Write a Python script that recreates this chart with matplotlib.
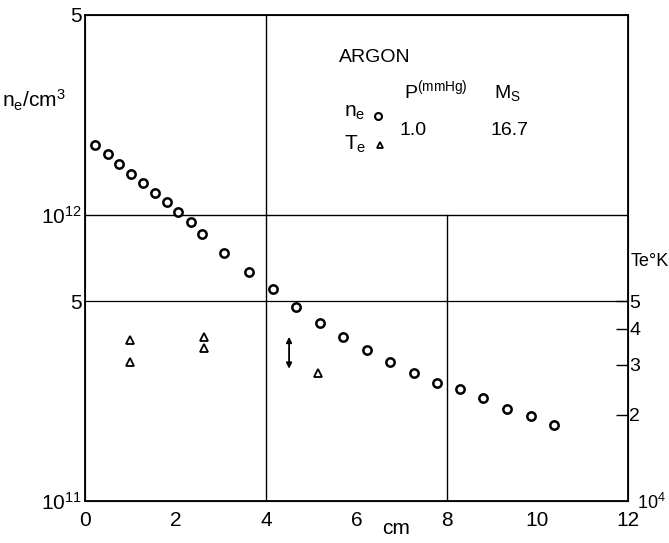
import numpy as np
import matplotlib
matplotlib.use("Agg")
import matplotlib.pyplot as plt
from matplotlib.lines import Line2D

plt.rcParams['font.family'] = ['Liberation Sans', 'DejaVu Sans']
plt.rcParams['mathtext.fontset'] = 'custom'
plt.rcParams['mathtext.rm'] = 'Liberation Sans'
plt.rcParams['mathtext.it'] = 'Liberation Sans'

# electron density (circles), cm and n_e/cm^3
x_ne = [0.22, 0.50, 0.75, 1.01, 1.28, 1.55, 1.81, 2.05, 2.34, 2.59, 3.08, 3.62,
        4.15, 4.67, 5.19, 5.71, 6.23, 6.75, 7.26, 7.77, 8.29, 8.80, 9.32, 9.85, 10.37]
n_e = [1.75e12, 1.63e12, 1.51e12, 1.39e12, 1.29e12, 1.19e12, 1.11e12, 1.02e12,
       9.45e11, 8.60e11, 7.36e11, 6.32e11, 5.50e11, 4.77e11, 4.19e11, 3.75e11,
       3.37e11, 3.06e11, 2.80e11, 2.58e11, 2.46e11, 2.29e11, 2.10e11, 1.99e11, 1.85e11]

# electron temperature (triangles), deg K
x_te = [1.0, 1.0, 2.63, 2.63, 5.14]
T_e = [3.66e4, 3.05e4, 3.75e4, 3.44e4, 2.80e4]

# error arrow
arrow_x = 4.51
arrow_T = [3.75e4, 2.9e4]

W, H = 669, 543
fig = plt.figure(figsize=(W / 100, H / 100), dpi=100)
ax = fig.add_axes([85 / W, 1 - 501 / H, (628 - 85) / W, (501 - 15) / H])

ax.set_xlim(0, 12)
ax.set_yscale('log')
ax.set_ylim(1e11, 5e12)

# drawn guide lines
ax.axhline(1e12, color='k', lw=1.0)
ax.axhline(5e11, color='k', lw=0.9)
ax.axvline(4, color='k', lw=1.0)
ax.plot([8, 8], [1e11, 1e12], color='k', lw=1.0)

ax.plot(x_ne, n_e, 'o', mfc='white', mec='k', ms=6, mew=1.8, zorder=5)

ax.set_xticks([0, 2, 4, 6, 8, 10, 12])
ax.set_xticklabels(['0', '2', '4', '6', '8', '10', '12'], fontsize=15)
ax.tick_params(axis='x', length=0, pad=7)
ax.set_yticks([1e11, 5e11, 1e12, 5e12])
ax.set_yticklabels(['10$^{11}$', '5', '10$^{12}$', '5'], fontsize=15)
ax.yaxis.set_minor_locator(matplotlib.ticker.NullLocator())
ax.tick_params(axis='y', length=0, pad=2)
for s in ax.spines.values():
    s.set_linewidth(1.3)

ax2 = ax.twinx()
ax2.set_yscale('log')
ax2.set_ylim(1e4, 5e5)
ax2.plot(x_te, T_e, '^', mfc='white', mec='k', ms=6, mew=1.3, zorder=5)
ax2.annotate('', xy=(arrow_x, arrow_T[1]), xytext=(arrow_x, arrow_T[0]),
             arrowprops=dict(arrowstyle='<|-|>', color='k', lw=1.3,
                             mutation_scale=8, shrinkA=0, shrinkB=0))
ax2.set_yticks([2e4, 3e4, 4e4, 5e4])
ax2.set_yticklabels(['2', '3', '4', '5'], fontsize=14)
ax2.yaxis.set_minor_locator(matplotlib.ticker.NullLocator())
ax2.tick_params(axis='y', direction='in', length=9, width=1.0, pad=1)

# axis labels
fig.text(2 / W, 1 - 100 / H, 'n$_e$/cm$^3$', fontsize=15, va='center', ha='left')
fig.text(396 / W, 1 - 528 / H, 'cm', fontsize=15, va='center', ha='center')
fig.text(631 / W, 1 - 262 / H, 'Te°K', fontsize=13, va='center', ha='left')
fig.text(637 / W, 1 - 503 / H, '10$^4$', fontsize=13, va='center', ha='left')

# key
fig.text(375 / W, 1 - 58 / H, 'ARGON', fontsize=14, va='center', ha='center')
fig.text(404 / W, 1 - 90 / H, 'P$^{(mmHg)}$', fontsize=14, va='center', ha='left')
fig.text(507 / W, 1 - 93 / H, 'M$_S$', fontsize=14, va='center', ha='center')
fig.text(355 / W, 1 - 113 / H, 'n$_e$', fontsize=15, va='center', ha='center')
fig.text(355 / W, 1 - 144 / H, 'T$_e$', fontsize=15, va='center', ha='center')
fig.text(413 / W, 1 - 130 / H, '1.0', fontsize=14, va='center', ha='center')
fig.text(510 / W, 1 - 130 / H, '16.7', fontsize=14, va='center', ha='center')
fig.add_artist(Line2D([378 / W], [1 - 116 / H], marker='o', mfc='white', mec='k',
                      ms=5, mew=1.5, transform=fig.transFigure))
fig.add_artist(Line2D([380 / W], [1 - 145 / H], marker='^', mfc='white', mec='k',
                      ms=5, mew=1.3, transform=fig.transFigure))

fig.savefig('out.png', dpi=100)
